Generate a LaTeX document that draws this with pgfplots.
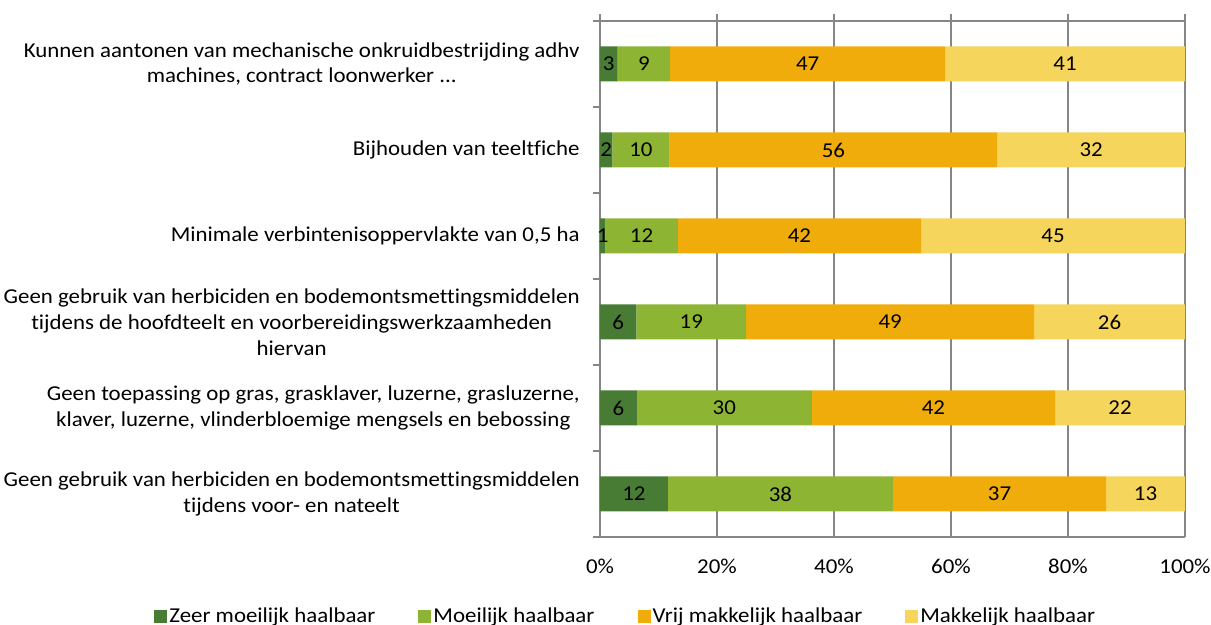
\documentclass[border=0pt]{standalone}
\usepackage{fontspec}
\setmainfont{Carlito}[FakeStretch=1.08, Ligatures=NoCommon]
\usepackage{pgfplots}
\pgfplotsset{compat=1.18}
\definecolor{zm}{RGB}{72,124,52}
\definecolor{mo}{RGB}{142,180,52}
\definecolor{vm}{RGB}{240,172,10}
\definecolor{mk}{RGB}{245,213,92}
\definecolor{axgray}{RGB}{134,134,134}
\pgfplotsset{sq/.style={legend image code/.code={\fill[##1,draw=none] (0pt,-3.25pt) rectangle (6.5pt,3.25pt);}}}
\newcommand{\fs}{\fontsize{10.6}{13}\selectfont}

\begin{document}
\begin{tikzpicture}[font=\fs]
\useasboundingbox (-300pt,-44pt) rectangle (305.5pt,268.5pt);
\begin{axis}[at={(0,0)}, anchor=south west,
  width=292.5pt, height=258pt, scale only axis,
  xbar stacked, bar width=17.5pt,
  xmin=0, xmax=100, ymin=-0.5, ymax=5.5,
  axis x line*=bottom, axis y line*=left,
  x axis line style={draw=none},
  axis line style={draw=axgray, line width=0.9pt, -},
  xtick={0,20,40,60,80,100}, xticklabels={0\%,20\%,40\%,60\%,80\%,100\%},
  xmajorgrids, grid style={axgray, line width=0.9pt},
  xtick style={draw=none},
  ytick={0,1,2,3,4,5}, ytick style={draw=none},
  yticklabels={{Geen gebruik van herbiciden en bodemontsmettingsmiddelen\\tijdens voor- en nateelt},
    {Geen toepassing op gras, grasklaver, luzerne, grasluzerne,\\klaver, luzerne, vlinderbloemige mengsels en bebossing},
    {Geen gebruik van herbiciden en bodemontsmettingsmiddelen\\tijdens de hoofdteelt en voorbereidingswerkzaamheden\\hiervan},
    {Minimale verbintenisoppervlakte van 0,5 ha},
    {Bijhouden van teeltfiche},
    {Kunnen aantonen van mechanische onkruidbestrijding adhv\\machines, contract loonwerker .{}.{}.}},
  yticklabel style={align=center, inner sep=0pt, xshift=-10pt, font=\fs},
  xticklabel style={inner sep=0pt, anchor=base, yshift=-18.4pt, font=\fs},
  legend style={at={(axis description cs:0.044,-0.154)}, anchor=center, draw=none,
    legend columns=4, font=\fs, nodes={inner sep=1pt},
    /tikz/every odd column/.append style={column sep=0pt},
    /tikz/every even column/.append style={column sep=20.5pt}},
  clip=false]
\addplot[fill=zm, draw=none, sq] coordinates {(11.6,0) (6.3,1) (6.2,2) (0.9,3) (2.1,4) (3.0,5)};
\addplot[fill=mo, draw=none, sq] coordinates {(38.5,0) (29.9,1) (18.8,2) (12.4,3) (9.8,4) (9.0,5)};
\addplot[fill=vm, draw=none, sq] coordinates {(36.4,0) (41.6,1) (49.2,2) (41.6,3) (56.0,4) (47.0,5)};
\addplot[fill=mk, draw=none, sq] coordinates {(13.5,0) (22.2,1) (25.8,2) (45.1,3) (32.1,4) (41.0,5)};
\legend{Zeer moeilijk haalbaar, Moeilijk haalbaar, Vrij makkelijk haalbaar, Makkelijk haalbaar}
% top axis line with outside tick marks, left category ticks
\draw[axgray, line width=0.9pt] (axis cs:0,5.5) -- (axis cs:100,5.5);
\pgfplotsinvokeforeach{0,20,40,60,80,100}{
  \draw[axgray, line width=0.9pt] (axis cs:#1,5.5) -- ([yshift=3.5pt]axis cs:#1,5.5);}
\pgfplotsinvokeforeach{-0.5,0.5,1.5,2.5,3.5,4.5,5.5}{
  \draw[axgray, line width=0.9pt] (axis cs:0,#1) -- ([xshift=-3.5pt]axis cs:0,#1);}
\end{axis}
\begin{axis}[at={(0,0)}, anchor=south west,
  width=292.5pt, height=258pt, scale only axis,
  xmin=0, xmax=100, ymin=-0.5, ymax=5.5, hide axis, clip=false]
\addplot[only marks, mark size=0pt, point meta=explicit symbolic, nodes near coords,
  every node near coord/.append style={anchor=center, inner sep=0pt, font=\fs}]
  coordinates {
  (5.8,0) [12] (30.85,0) [38] (68.3,0) [37] (93.25,0) [13]
  (3.15,1) [6] (21.25,1) [30] (57.0,1) [42] (88.9,1) [22]
  (3.1,2) [6] (15.6,2) [19] (49.6,2) [49] (87.1,2) [26]
  (0.45,3) [1] (7.1,3) [12] (34.1,3) [42] (77.45,3) [45]
  (1.05,4) [2] (7.0,4) [10] (39.9,4) [56] (83.95,4) [32]
  (1.5,5) [3] (7.5,5) [9] (35.5,5) [47] (79.5,5) [41]};
\end{axis}
\end{tikzpicture}
\end{document}
